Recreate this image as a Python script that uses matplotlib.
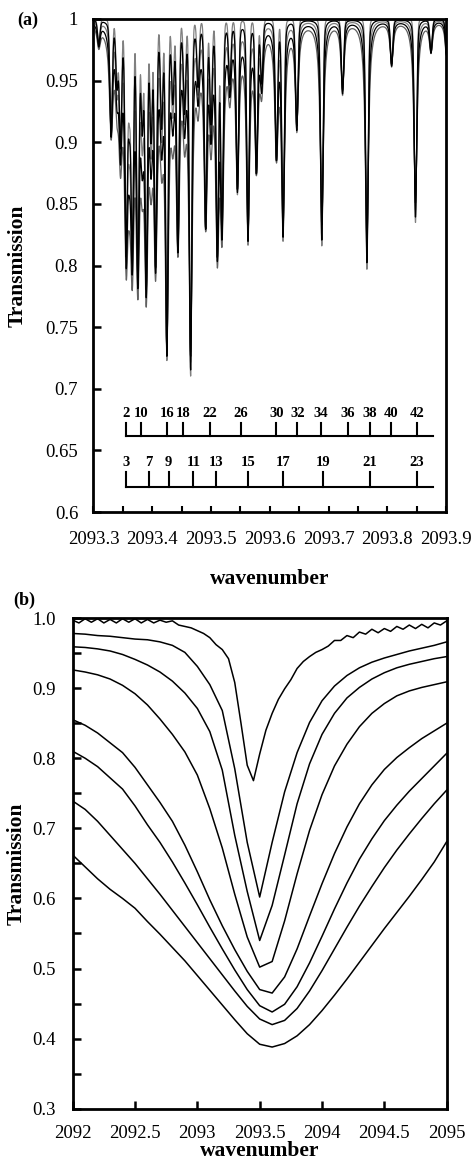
import numpy as np
import matplotlib
matplotlib.use("Agg")
import matplotlib.pyplot as plt
from matplotlib.ticker import MultipleLocator, FixedLocator

plt.rcParams['font.family'] = ['Liberation Serif', 'DejaVu Serif']

# ---------------- Panel (a) data: absorption line list ----------------
line_wn = [2093.309, 2093.330, 2093.340, 2093.346, 2093.3557, 2093.361, 2093.366,
           2093.3755, 2093.383, 2093.3898, 2093.398, 2093.4057, 2093.416, 2093.4249,
           2093.435, 2093.4437, 2093.455, 2093.4653, 2093.478, 2093.4909,
           2093.500, 2093.5108, 2093.5187, 2093.532, 2093.545, 2093.563,
           2093.5773, 2093.5863, 2093.6114, 2093.6226, 2093.646, 2093.6886,
           2093.7239, 2093.7653, 2093.8074, 2093.848, 2093.8744, 2093.9017]
line_tmin = [0.980, 0.905, 0.950, 0.900, 0.812, 0.930, 0.815,
             0.793, 0.920, 0.783, 0.910, 0.800, 0.920, 0.724,
             0.940, 0.811, 0.930, 0.711, 0.950, 0.829,
             0.920, 0.808, 0.827, 0.950, 0.858, 0.817,
             0.874, 0.950, 0.885, 0.820, 0.908, 0.816,
             0.938, 0.797, 0.961, 0.835, 0.972, 0.960]
# per-recording profile parameters (5 recordings)
doppler_hw = 0.0023
curve_lorentz_hw = [0.0020, 0.0025, 0.0030, 0.0035, 0.0040]
curve_lorentz_frac = [0.10, 0.28, 0.45, 0.60, 0.75]
curve_scale = [1.00, 0.97, 0.93, 0.89, 0.85]
curve_color = ['#808080', 'black', '#808080', 'black', '#606060']

# ladder assignments
upper_labels = ['2', '10', '16', '18', '22', '26', '30', '32', '34', '36', '38', '40', '42']
upper_pos = [2093.3557, 2093.381, 2093.425, 2093.452, 2093.498, 2093.551, 2093.611,
             2093.647, 2093.687, 2093.733, 2093.770, 2093.807, 2093.850]
lower_labels = ['3', '7', '9', '11', '13', '15', '17', '19', '21', '23']
lower_pos = [2093.356, 2093.394, 2093.428, 2093.470, 2093.508, 2093.563, 2093.622,
             2093.690, 2093.770, 2093.850]
ladder_end = 2093.877

# ---------------- Panel (b) data ----------------
b_wn_top = np.round(np.linspace(2092.0, 2095.0, 61), 3)
b_top = [0.997, 0.993, 0.999, 0.994, 0.999, 0.993, 0.998, 0.993, 0.999, 0.994,
         0.999, 0.993, 0.998, 0.993, 0.997, 0.994, 0.996, 0.990, 0.988, 0.986,
         0.982, 0.978, 0.972, 0.962, 0.955, 0.942, 0.908, 0.850, 0.790, 0.768,
         0.806, 0.840, 0.864, 0.884, 0.899, 0.912, 0.928, 0.938, 0.945, 0.951,
         0.955, 0.960, 0.968, 0.968, 0.975, 0.972, 0.980, 0.977, 0.984, 0.979,
         0.985, 0.981, 0.988, 0.984, 0.990, 0.985, 0.991, 0.986, 0.993, 0.990, 0.996]

b_wn = np.round(np.linspace(2092.0, 2095.0, 31), 2)
b_c2 = [0.978, 0.977, 0.975, 0.974, 0.972, 0.970, 0.969, 0.966, 0.961, 0.951,
        0.931, 0.905, 0.868, 0.785, 0.680, 0.602, 0.680, 0.752, 0.808, 0.851,
        0.882, 0.903, 0.918, 0.929, 0.937, 0.943, 0.948, 0.953, 0.957, 0.961, 0.966]
b_c3 = [0.959, 0.958, 0.956, 0.953, 0.948, 0.941, 0.933, 0.923, 0.910, 0.893,
        0.871, 0.838, 0.783, 0.690, 0.610, 0.540, 0.590, 0.662, 0.735, 0.792,
        0.834, 0.864, 0.886, 0.901, 0.913, 0.922, 0.929, 0.934, 0.938, 0.942, 0.945]
b_c4 = [0.926, 0.923, 0.919, 0.913, 0.904, 0.892, 0.876, 0.856, 0.834, 0.809,
        0.776, 0.728, 0.672, 0.606, 0.545, 0.502, 0.510, 0.568, 0.635, 0.697,
        0.748, 0.789, 0.820, 0.845, 0.864, 0.878, 0.889, 0.896, 0.901, 0.905, 0.909]
b_c5 = [0.855, 0.847, 0.836, 0.822, 0.808, 0.787, 0.762, 0.737, 0.710, 0.676,
        0.638, 0.598, 0.561, 0.527, 0.496, 0.470, 0.465, 0.488, 0.528, 0.575,
        0.621, 0.664, 0.702, 0.735, 0.762, 0.784, 0.801, 0.815, 0.828, 0.839, 0.850]
b_c6 = [0.810, 0.800, 0.788, 0.772, 0.756, 0.732, 0.705, 0.680, 0.652, 0.622,
        0.591, 0.559, 0.528, 0.498, 0.470, 0.447, 0.438, 0.449, 0.474, 0.508,
        0.546, 0.585, 0.622, 0.656, 0.685, 0.711, 0.733, 0.753, 0.771, 0.789, 0.807]
b_c7 = [0.739, 0.727, 0.710, 0.690, 0.670, 0.650, 0.628, 0.606, 0.583, 0.560,
        0.537, 0.514, 0.491, 0.468, 0.446, 0.428, 0.420, 0.426, 0.443, 0.468,
        0.497, 0.528, 0.559, 0.589, 0.617, 0.644, 0.669, 0.692, 0.714, 0.735, 0.7545]
b_c8 = [0.662, 0.645, 0.628, 0.613, 0.600, 0.586, 0.567, 0.549, 0.530, 0.511,
        0.490, 0.469, 0.448, 0.427, 0.407, 0.392, 0.388, 0.393, 0.404, 0.420,
        0.440, 0.462, 0.485, 0.509, 0.533, 0.557, 0.580, 0.603, 0.627, 0.652, 0.681]

# ---------------- Figure ----------------
fig = plt.figure(figsize=(4.75, 11.65), dpi=100)
ax1 = fig.add_axes([0.1968, 0.5605, 0.7422, 0.4232])
ax2 = fig.add_axes([0.153, 0.0483, 0.7874, 0.4212])

TICK_FS = 13.5
LAB_FS = 15.5

# Panel (a): each recording built from the line list
wn = np.linspace(2093.3, 2093.9, 6000)
c = np.array(line_wn)[:, None]
a = -np.log(np.array(line_tmin))[:, None]
d = wn[None, :] - c
gauss = np.exp(-np.log(2) * (d / doppler_hw) ** 2)
for k in [0, 2, 4, 1, 3]:
    gl = curve_lorentz_hw[k]
    lor = gl ** 2 / (d ** 2 + gl ** 2)
    eta = curve_lorentz_frac[k]
    A = (curve_scale[k] * a * ((1 - eta) * gauss + eta * lor)).sum(axis=0)
    ax1.plot(wn, np.exp(-A), color=curve_color[k], lw=0.9)

# ladders
ax1.plot([upper_pos[0], ladder_end], [0.6618, 0.6618], color='black', lw=1.5)
for p, lab in zip(upper_pos, upper_labels):
    ax1.plot([p, p], [0.6618, 0.6726], color='black', lw=1.5)
    ax1.text(p, 0.6750, lab, ha='center', va='bottom', fontsize=10.5, fontweight='bold')
ax1.plot([lower_pos[0], ladder_end], [0.6206, 0.6206], color='black', lw=1.5)
for p, lab in zip(lower_pos, lower_labels):
    ax1.plot([p, p], [0.6206, 0.6328], color='black', lw=1.5)
    ax1.text(p, 0.6350, lab, ha='center', va='bottom', fontsize=10.5, fontweight='bold')

ax1.set_xlim(2093.3, 2093.9)
ax1.set_ylim(0.6, 1.0)
ax1.xaxis.set_major_locator(FixedLocator([2093.3, 2093.4, 2093.5, 2093.6, 2093.7, 2093.8, 2093.9]))
ax1.set_xticklabels(['2093.3', '2093.4', '2093.5', '2093.6', '2093.7', '2093.8', '2093.9'])
ax1.xaxis.set_minor_locator(MultipleLocator(0.05))
yt = [0.6, 0.65, 0.7, 0.75, 0.8, 0.85, 0.9, 0.95, 1.0]
ax1.set_yticks(yt)
ax1.set_yticklabels(['0.6', '0.65', '0.7', '0.75', '0.8', '0.85', '0.9', '0.95', '1'])
ax1.tick_params(axis='x', which='both', direction='in', length=4, width=1.5, pad=14, labelsize=TICK_FS)
ax1.tick_params(axis='y', which='both', direction='in', length=6, width=1.8, pad=11, labelsize=TICK_FS)
ax1.set_xlabel('wavenumber', fontsize=LAB_FS, fontweight='bold')
ax1.set_ylabel('Transmission', fontsize=LAB_FS, fontweight='bold')
ax1.xaxis.set_label_coords(0.5, -0.116)
ax1.yaxis.set_label_coords(-0.186, 0.5)

# Panel (b)
ax2.plot(b_wn_top, b_top, color='black', lw=1.1)
for series in [b_c2, b_c3, b_c4, b_c5, b_c6, b_c7, b_c8]:
    ax2.plot(b_wn, series, color='black', lw=1.1)
ax2.set_xlim(2092, 2095)
ax2.set_ylim(0.3, 1.0)
ax2.set_xticks([2092, 2092.5, 2093, 2093.5, 2094, 2094.5, 2095])
ax2.set_xticklabels(['2092', '2092.5', '2093', '2093.5', '2094', '2094.5', '2095'])
ax2.set_yticks([0.3, 0.4, 0.5, 0.6, 0.7, 0.8, 0.9, 1.0])
ax2.set_yticklabels(['0.3', '0.4', '0.5', '0.6', '0.7', '0.8', '0.9', '1.0'])
ax2.yaxis.set_minor_locator(MultipleLocator(0.05))
ax2.tick_params(axis='x', which='both', direction='in', length=6, width=1.8, pad=12, labelsize=TICK_FS)
ax2.tick_params(axis='y', which='both', direction='in', length=6, width=1.8, pad=12, labelsize=TICK_FS)
ax2.set_xlabel('wavenumber', fontsize=LAB_FS, fontweight='bold')
ax2.set_ylabel('Transmission', fontsize=LAB_FS, fontweight='bold')
ax2.xaxis.set_label_coords(0.5, -0.066)
ax2.yaxis.set_label_coords(-0.123, 0.5)

for ax in (ax1, ax2):
    for s in ax.spines.values():
        s.set_linewidth(2.0)

fig.text(17/475, 1 - 12/1165, '(a)', fontsize=13, fontweight='bold', ha='left', va='top')
fig.text(13/475, 1 - 592/1165, '(b)', fontsize=13, fontweight='bold', ha='left', va='top')

fig.savefig('out.png', dpi=100)
